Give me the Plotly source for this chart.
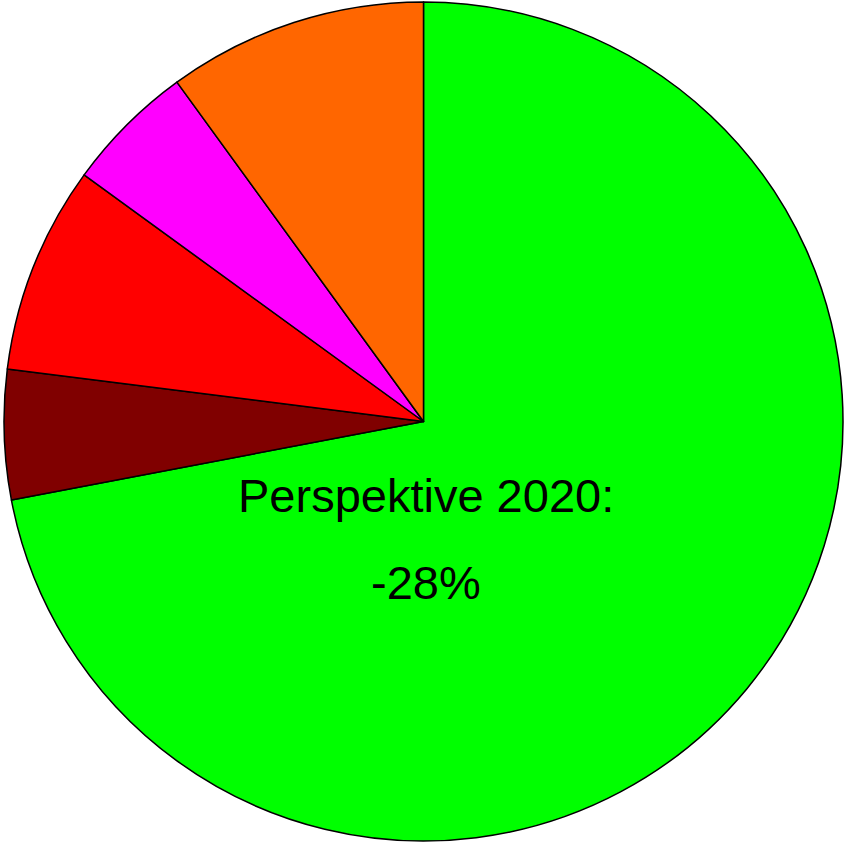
import plotly.graph_objects as go

# Shares of the pie, clockwise from 12 o'clock
segments = ["Reduktion", "Anteil A", "Anteil B", "Anteil C", "Anteil D"]
shares = [72, 5, 8, 5, 10]
colors = ["#00ff00", "#800000", "#ff0000", "#ff00ff", "#ff6600"]

caption_lines = ["Perspektive 2020:", "-28%"]

fig = go.Figure(
    go.Pie(
        labels=segments,
        values=shares,
        sort=False,
        direction="clockwise",
        rotation=0,
        marker=dict(colors=colors, line=dict(color="black", width=1.5)),
        textinfo="none",
        hoverinfo="label+percent",
        showlegend=False,
        domain=dict(x=[4 / 844, 843 / 844], y=[3 / 844, 842 / 844]),
    )
)

font = dict(family="Liberation Sans, Arial, sans-serif", size=47, color="black")
fig.add_annotation(x=0.505, y=1 - 495 / 844, xref="paper", yref="paper",
                   text=caption_lines[0], showarrow=False, font=font,
                   xanchor="center", yanchor="middle")
fig.add_annotation(x=0.505, y=1 - 582 / 844, xref="paper", yref="paper",
                   text=caption_lines[1], showarrow=False, font=font,
                   xanchor="center", yanchor="middle")

fig.update_layout(
    width=844,
    height=844,
    margin=dict(l=0, r=0, t=0, b=0),
    paper_bgcolor="white",
    plot_bgcolor="white",
)

fig.write_html("out.html")
